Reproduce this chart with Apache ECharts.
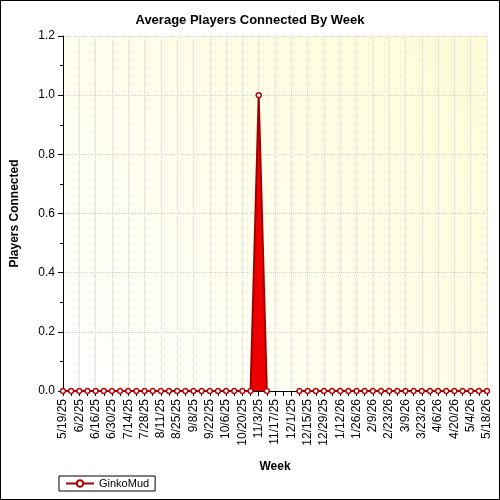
<!DOCTYPE html>
<html><head><meta charset="utf-8">
<script src="https://cdn.jsdelivr.net/npm/echarts@6/dist/echarts.min.js"></script>
<style>html,body{margin:0;padding:0;background:#fff}#c{width:498px;height:498px;border:1px solid #000}</style>
</head><body><div id="c"></div>
<script>
const weeks = ["5/19/25","5/26/25","6/2/25","6/9/25","6/16/25","6/23/25","6/30/25","7/7/25","7/14/25","7/21/25","7/28/25","8/4/25","8/11/25","8/18/25","8/25/25","9/1/25","9/8/25","9/15/25","9/22/25","9/29/25","10/6/25","10/13/25","10/20/25","10/27/25","11/3/25","11/10/25","11/17/25","11/24/25","12/1/25","12/8/25","12/15/25","12/22/25","12/29/25","1/5/26","1/12/26","1/19/26","1/26/26","2/2/26","2/9/26","2/16/26","2/23/26","3/2/26","3/9/26","3/16/26","3/23/26","3/30/26","4/6/26","4/13/26","4/20/26","4/27/26","5/4/26","5/11/26","5/18/26"];
const ginkoMud = [0,0,0,0,0,0,0,0,0,0,0,0,0,0,0,0,0,0,0,0,0,0,0,0,1,0,null,null,null,0,0,0,0,0,0,0,0,0,0,0,0,0,0,0,0,0,0,0,0,0,0,0,0];
const yTicks = [0,0.2,0.4,0.6,0.8,1.0,1.2];
const chart = echarts.init(document.getElementById('c'));
chart.setOption({
  animation:false,
  title:{text:'Average Players Connected By Week',left:'center',top:8,textStyle:{fontFamily:'Liberation Sans',fontSize:13,fontWeight:'bold',color:'#000'}},
  grid:{left:60,right:12,top:35,bottom:108,backgroundColor:new echarts.graphic.LinearGradient(0,1,1,0,[{offset:0,color:'#ffffff'},{offset:1,color:'#fdfcd6'}]),show:true,borderWidth:0},
  legend:{left:58,bottom:8,itemWidth:28,itemHeight:8,borderColor:'#000',borderWidth:1,padding:[2,6],borderRadius:0,textStyle:{fontFamily:'Liberation Sans',fontSize:11,color:'#000'},data:['GinkoMud']},
  xAxis:{type:'category',data:weeks,boundaryGap:false,name:'Week',nameLocation:'middle',nameGap:70,
    nameTextStyle:{fontFamily:'Liberation Sans',fontWeight:'bold',fontSize:12,color:'#000'},
    axisLine:{lineStyle:{color:'#000'}},axisTick:{interval:0,alignWithLabel:true,lineStyle:{color:'#000'}},
    axisLabel:{interval:1,rotate:90,fontFamily:'Liberation Sans',fontSize:12,color:'#000'},
    splitLine:{show:true,interval:1,lineStyle:{type:'dotted',color:'#d4d4d4'}}},
  yAxis:{type:'value',min:0,max:1.2,interval:0.2,name:'Players Connected',nameLocation:'middle',nameGap:42,
    nameTextStyle:{fontFamily:'Liberation Sans',fontWeight:'bold',fontSize:12,color:'#000'},
    axisLine:{show:true,lineStyle:{color:'#000'}},axisTick:{show:true,lineStyle:{color:'#000'}},
    minorTick:{show:true,splitNumber:2,lineStyle:{color:'#000'}},
    axisLabel:{formatter:v=>v.toFixed(1),fontFamily:'Liberation Sans',fontSize:12,color:'#000'},
    splitLine:{lineStyle:{type:'dotted',color:'#d4d4d4'}}},
  series:[{name:'GinkoMud',type:'line',data:ginkoMud,symbol:'circle',symbolSize:5,showAllSymbol:true,
    itemStyle:{color:'#fff',borderColor:'#b00000',borderWidth:1.5},
    lineStyle:{color:'#a00000',width:2},
    areaStyle:{color:'#ee0000',opacity:1}}]
});
</script></body></html>
